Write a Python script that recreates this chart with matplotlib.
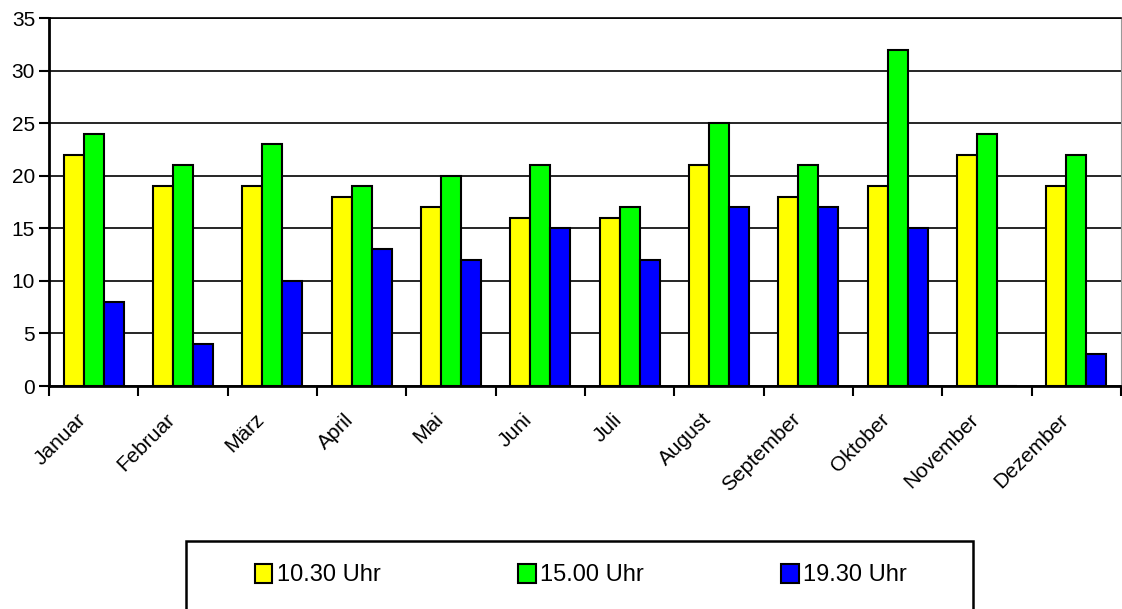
import numpy as np
import matplotlib
matplotlib.use("Agg")
import matplotlib.pyplot as plt
import matplotlib.transforms as mtransforms
from matplotlib.patches import Rectangle

plt.rcParams["font.family"] = ["Liberation Sans", "DejaVu Sans"]

months = ["Januar", "Februar", "März", "April", "Mai", "Juni", "Juli",
          "August", "September", "Oktober", "November", "Dezember"]
series_names = ["10.30 Uhr", "15.00 Uhr", "19.30 Uhr"]
v_1030 = [22, 19, 19, 18, 17, 16, 16, 21, 18, 19, 22, 19]
v_1500 = [24, 21, 23, 19, 20, 21, 17, 25, 21, 32, 24, 22]
v_1930 = [8, 4, 10, 13, 12, 15, 12, 17, 17, 15, 0, 3]
colors = ["#FFFF00", "#00FF00", "#0000FF"]

fig = plt.figure(figsize=(11.22, 6.09), dpi=100)
ax = fig.add_axes([49 / 1122, 1 - 386 / 609, 1072 / 1122, 368 / 609])

x = np.arange(len(months))
w = 0.224
for i, (vals, c, name) in enumerate(zip([v_1030, v_1500, v_1930], colors, series_names)):
    ax.bar(x + (i - 1) * w, vals, width=w, color=c, edgecolor="black",
           linewidth=1.5, label=name, zorder=3)

ax.set_xlim(-0.5, 11.5)
ax.set_ylim(0, 35)
ax.set_yticks(range(0, 36, 5))
ax.yaxis.grid(True, color="black", linewidth=1.2, zorder=0)
ax.set_axisbelow(True)

ax.set_xticks(x)
ax.set_xticklabels(months, rotation=45, ha="right", va="center",
                   rotation_mode="anchor", fontsize=15)
ax.tick_params(axis="x", which="major", length=0, pad=22)
# shift month labels a little to the left, as in the original
shift = mtransforms.ScaledTranslation(-11 / 100, 0, fig.dpi_scale_trans)
for lbl in ax.get_xticklabels():
    lbl.set_transform(lbl.get_transform() + shift)
ax.set_xticks(np.arange(-0.5, 12, 1), minor=True)
ax.tick_params(axis="x", which="minor", length=7, width=1.5, direction="out")
ax.tick_params(axis="y", length=7, width=1.5, labelsize=15, pad=3)

for s in ["left", "bottom"]:
    ax.spines[s].set_linewidth(2)
ax.spines["top"].set_linewidth(1.2)
ax.spines["right"].set_color("#999999")
ax.spines["right"].set_linewidth(0.8)

# legend box, cut off at the bottom like the original
fig.patches.append(Rectangle((186 / 1122, -0.05), 787 / 1122, 0.05 + 1 - 541 / 609,
                             transform=fig.transFigure, fill=False,
                             edgecolor="black", linewidth=1.8))
handles, labels = ax.get_legend_handles_labels()
fig.legend(handles, labels, loc="center", bbox_to_anchor=(581 / 1122, 1 - 575 / 609),
           ncol=3, frameon=False, fontsize=17, handlelength=0.75, handleheight=0.9,
           handletextpad=0.2, columnspacing=5.8)

fig.savefig("out.png", dpi=100)
